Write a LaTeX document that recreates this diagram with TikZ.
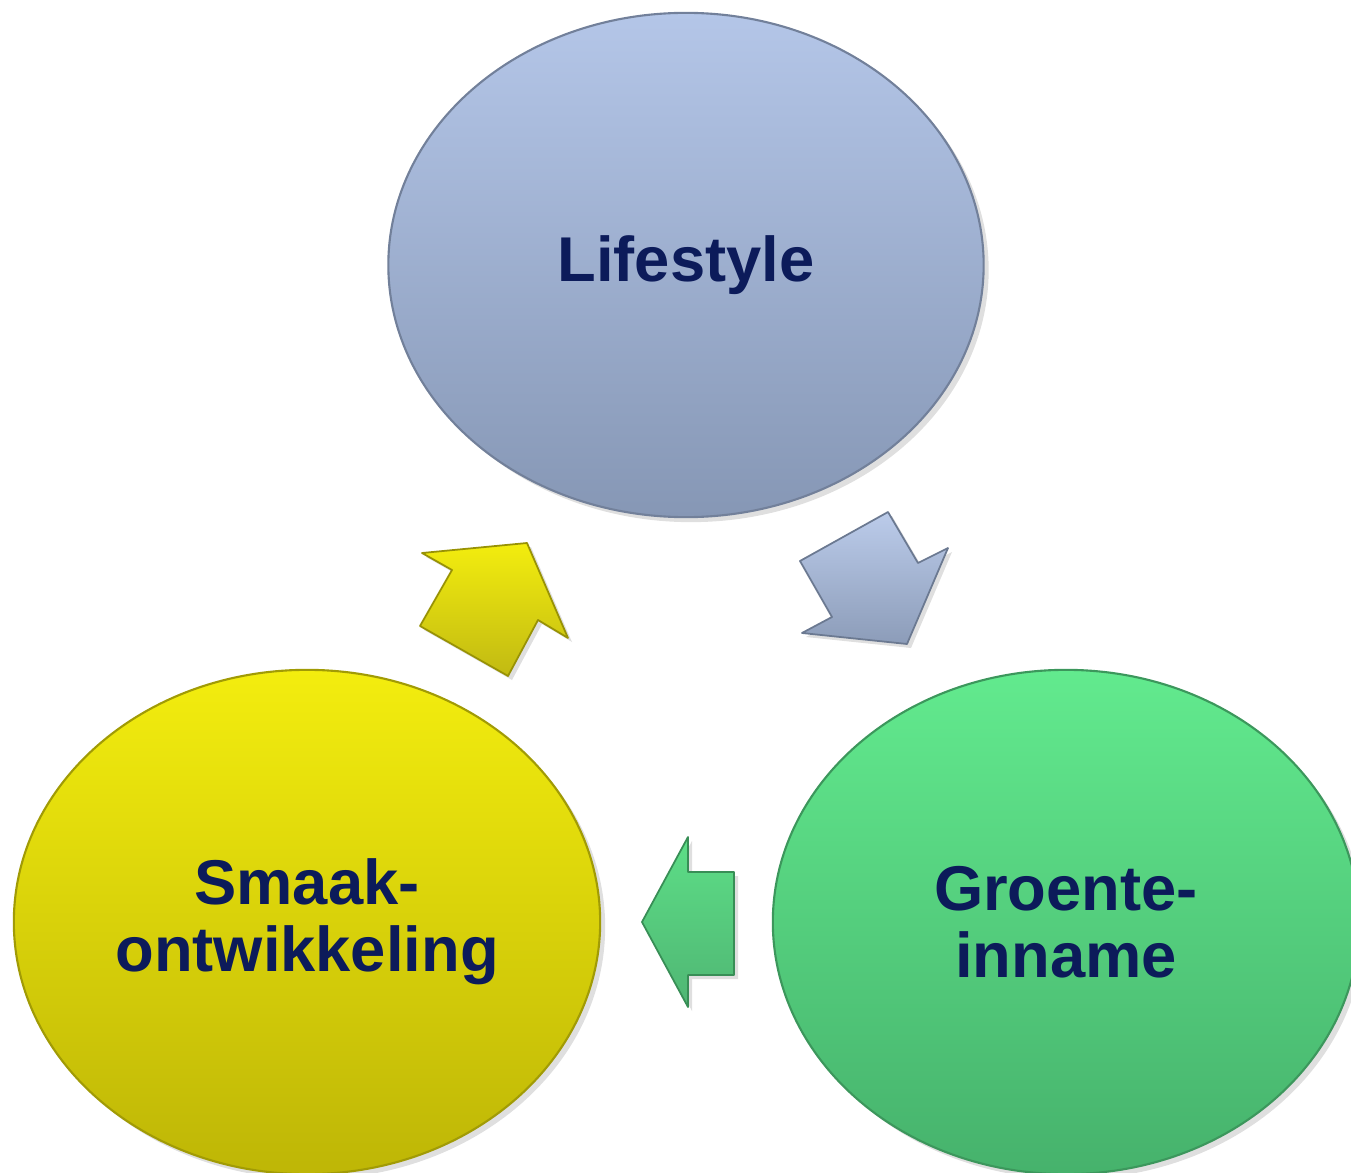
\documentclass[tikz,border=0pt]{standalone}
\usepackage{fontspec}
\setmainfont{Liberation Sans}
\usetikzlibrary{shapes.geometric,shadows}
\definecolor{txtblue}{RGB}{12,27,90}
\definecolor{lifetop}{RGB}{180,198,232}
\definecolor{lifebot}{RGB}{134,151,181}
\definecolor{smaaktop}{RGB}{243,237,14}
\definecolor{smaakbot}{RGB}{190,182,6}
\definecolor{groentop}{RGB}{98,234,142}
\definecolor{groenbot}{RGB}{70,178,108}
\begin{document}
\begin{tikzpicture}[x=0.01cm, y=-0.01cm,
    bubble/.style={ellipse, minimum width=5.86cm, minimum height=5.04cm, inner sep=0pt,
        text=txtblue, font=\bfseries\fontsize{18}{19.2}\selectfont, align=center,
        line width=0.6pt, drop shadow={opacity=0.25, shadow xshift=0.05cm, shadow yshift=-0.05cm}},
    blockarrow/.style={line width=0.5pt, line join=round,
        drop shadow={opacity=0.25, shadow xshift=0.04cm, shadow yshift=-0.04cm}}]
    \useasboundingbox (0,0) rectangle (1351,1173);
    \clip (0,0) rectangle (1351,1173);
    \node[bubble, minimum width=5.95cm, draw=lifebot!85!black, top color=lifetop, bottom color=lifebot] (life) at (686,265) {Lifestyle};
    \node[bubble, draw=smaakbot!85!black, top color=smaaktop, bottom color=smaakbot] (smaak) at (307,922) {Smaak-\\ontwikkeling};
    \node[bubble, draw=groenbot!85!black, top color=groentop, bottom color=groenbot] (groente) at (1066,922) {Groente-\\inname};
    \path[blockarrow, draw=lifebot!80!black, top color=lifetop!90!white, bottom color=lifebot!95!white]
        (888,512) -- (918,563) -- (948,548) -- (907,644) -- (802,633) -- (832,617) -- (800,561) -- cycle;
    \path[blockarrow, draw=groenbot!80!black, top color=groentop!95!black, bottom color=groenbot!95!white]
        (734,872) -- (688,872) -- (688,837) -- (642,922) -- (688,1007) -- (688,975) -- (734,975) -- cycle;
    \path[blockarrow, draw=smaakbot!80!black, top color=smaaktop, bottom color=smaakbot!95!white]
        (422,553) -- (527,543) -- (568,638) -- (538,620) -- (508,676) -- (420,626) -- (452,570) -- cycle;
\end{tikzpicture}
\end{document}
